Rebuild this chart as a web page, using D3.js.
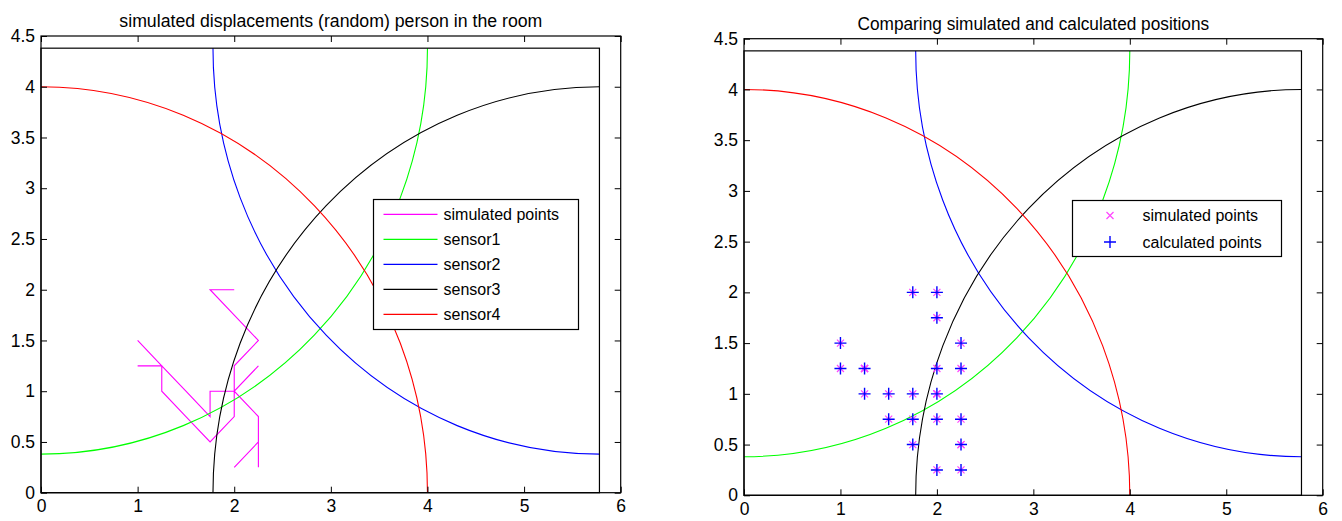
<!DOCTYPE html>
<html><head><meta charset="utf-8">
<script src="https://cdn.jsdelivr.net/npm/d3@7"></script>
<style>
html,body{margin:0;padding:0;background:#fff;}
svg{display:block;font-family:"Liberation Sans",Arial,Helvetica,sans-serif;}
</style>
</head><body>
<svg id="c" width="1342" height="521"></svg>
<script>
// ---- data ----
const xTicks = [0, 1, 2, 3, 4, 5, 6];
const xTickLabels = ["0", "1", "2", "3", "4", "5", "6"];
const yTicks = [0, 0.5, 1, 1.5, 2, 2.5, 3, 3.5, 4, 4.5];
const yTickLabels = ["0", "0.5", "1", "1.5", "2", "2.5", "3", "3.5", "4", "4.5"];
const roomX = [0, 5.78];
const roomY = [0, 4.38];
const sensorNames = ["sensor1", "sensor2", "sensor3", "sensor4"];
const sensorColors = ["#00ff00", "#0000ff", "#000000", "#ff0000"];
const sensorCX = [0, 5.78, 5.78, 0];
const sensorCY = [4.38, 4.38, 0, 0];
const sensorR = [4, 4, 4, 4];
// simulated random walk (person in the room)
const walkX = [2, 2.25, 2.25, 2.25, 2.25, 2, 2.25, 2, 1.75, 1.75, 1.5, 1.25, 1, 1.25, 1, 1.25, 1.25, 1.5, 1.75, 2, 2, 2, 2.25, 2, 1.75, 2];
const walkY = [0.25, 0.5, 0.25, 0.5, 0.75, 1, 1.25, 1, 1, 0.75, 1, 1.25, 1.5, 1.25, 1.25, 1.25, 1, 0.75, 0.5, 0.75, 1, 1.25, 1.5, 1.75, 2, 2];
// calculated positions
const calcX = [1.75, 2, 2, 1, 2.25, 1, 1.25, 2, 2.25, 1.25, 1.5, 1.75, 2, 1.5, 1.75, 2, 2.25, 1.75, 2.25, 2, 2.25];
const calcY = [2, 2, 1.75, 1.5, 1.5, 1.25, 1.25, 1.25, 1.25, 1, 1, 1, 1, 0.75, 0.75, 0.75, 0.75, 0.5, 0.5, 0.25, 0.25];
const titles = ["simulated displacements (random) person in the room", "Comparing simulated and calculated positions"];

const svg = d3.select("#c");
const plusPath = "M-6,0H6M0,-6V6";
const xPath = "M-3.5,-3.5L3.5,3.5M-3.5,3.5L3.5,-3.5";

function panel(idx, box) {
  const g = svg.append("g");
  const x = d3.scaleLinear().domain([0, 6]).range([box.l, box.r]);
  const y = d3.scaleLinear().domain([0, 4.5]).range([box.b, box.t]);

  // title
  const t = g.append("text").attr("x", (box.l + box.r) / 2).attr("y", box.t - 9)
    .attr("text-anchor", "middle").attr("font-size", 17.5).attr("fill", "#000")
    .text(titles[idx]);
  t.node().setAttribute("textLength", box.titleW);
  t.node().setAttribute("lengthAdjust", "spacingAndGlyphs");

  // clip to room
  const cid = "room" + idx;
  g.append("clipPath").attr("id", cid).append("rect")
    .attr("x", x(roomX[0])).attr("y", y(roomY[1]))
    .attr("width", x(roomX[1]) - x(roomX[0])).attr("height", y(roomY[0]) - y(roomY[1]));

  const sensorIdx = d3.range(sensorNames.length);

  // walk line (left panel only)
  if (idx === 0) {
    const line = d3.line().x(i => x(walkX[i])).y(i => y(walkY[i]));
    g.append("path").attr("d", line(d3.range(walkX.length)))
      .attr("fill", "none").attr("stroke", "#ff00ff").attr("stroke-width", 1.1);
  }

  // sensor circles
  g.append("g").attr("clip-path", `url(#${cid})`).selectAll("ellipse").data(sensorIdx).join("ellipse")
    .attr("cx", i => x(sensorCX[i])).attr("cy", i => y(sensorCY[i]))
    .attr("rx", i => x(sensorR[i]) - x(0)).attr("ry", i => y(0) - y(sensorR[i]))
    .attr("fill", "none").attr("stroke", i => sensorColors[i]).attr("stroke-width", 1.1);

  // room
  g.append("rect").attr("x", x(roomX[0])).attr("y", y(roomY[1]))
    .attr("width", x(roomX[1]) - x(roomX[0])).attr("height", y(roomY[0]) - y(roomY[1]))
    .attr("fill", "none").attr("stroke", "#000").attr("stroke-width", 1.2);

  if (idx === 1) {
    g.selectAll(".sim").data(d3.range(walkX.length)).join("path").attr("class", "sim")
      .attr("transform", i => `translate(${x(walkX[i])},${y(walkY[i])})`)
      .attr("d", xPath).attr("fill", "none").attr("stroke", "#ff44ff").attr("stroke-width", 1.2);
    g.selectAll(".calc").data(d3.range(calcX.length)).join("path").attr("class", "calc")
      .attr("transform", i => `translate(${x(calcX[i])},${y(calcY[i])})`)
      .attr("d", plusPath).attr("fill", "none").attr("stroke", "#0000ff").attr("stroke-width", 1.4);
  }

  // axes (ticks inward on all four sides)
  const styleAxis = a => {
    a.select(".domain").remove();
    a.selectAll(".tick line").attr("stroke", "#000").attr("stroke-width", 1);
    a.selectAll("text").attr("font-size", 17.5).attr("fill", "#000")
      .attr("font-family", "Liberation Sans, Arial, sans-serif");
  };
  g.append("g").attr("transform", `translate(0,${box.b})`)
    .call(d3.axisBottom(x).tickValues(xTicks).tickFormat((d, i) => xTickLabels[i]).tickSize(-6).tickPadding(7))
    .call(styleAxis);
  g.append("g").attr("transform", `translate(0,${box.t})`)
    .call(d3.axisTop(x).tickValues(xTicks).tickFormat("").tickSize(-6))
    .call(styleAxis);
  g.append("g").attr("transform", `translate(${box.l},0)`)
    .call(d3.axisLeft(y).tickValues(yTicks).tickFormat((d, i) => yTickLabels[i]).tickSize(-6).tickPadding(6))
    .call(styleAxis);
  g.append("g").attr("transform", `translate(${box.r},0)`)
    .call(d3.axisRight(y).tickValues(yTicks).tickFormat("").tickSize(-6))
    .call(styleAxis);
  g.append("rect").attr("x", box.l).attr("y", box.t).attr("width", box.r - box.l).attr("height", box.b - box.t)
    .attr("fill", "none").attr("stroke", "#000").attr("stroke-width", 1.2);

  // legend
  const lg = g.append("g");
  if (idx === 0) {
    const names = ["simulated points"].concat(sensorNames);
    const cols = ["#ff00ff"].concat(sensorColors);
    const lx = 373.5, ly = 199.5, lw = 205, lh = 130;
    lg.append("rect").attr("x", lx).attr("y", ly).attr("width", lw).attr("height", lh)
      .attr("fill", "#fff").attr("stroke", "#000").attr("stroke-width", 1.2);
    names.forEach((n, i) => {
      const yy = 214.3 + i * 25;
      lg.append("line").attr("x1", lx + 10).attr("x2", lx + 64).attr("y1", yy).attr("y2", yy)
        .attr("stroke", cols[i]).attr("stroke-width", 1.2);
      lg.append("text").attr("x", lx + 70).attr("y", yy).attr("dy", "0.36em")
        .attr("font-size", 16).attr("fill", "#000").text(n);
    });
  } else {
    const names = ["simulated points", "calculated points"];
    const lx = 1072.5, ly = 200.5, lw = 209, lh = 56;
    lg.append("rect").attr("x", lx).attr("y", ly).attr("width", lw).attr("height", lh)
      .attr("fill", "#fff").attr("stroke", "#000").attr("stroke-width", 1.2);
    names.forEach((n, i) => {
      const yy = 215.5 + i * 26.5;
      lg.append("path").attr("transform", `translate(${lx + 37.5},${yy})`)
        .attr("d", i === 0 ? xPath : plusPath).attr("fill", "none")
        .attr("stroke", i === 0 ? "#ff44ff" : "#0000ff").attr("stroke-width", i === 0 ? 1.2 : 1.4);
      lg.append("text").attr("x", lx + 70).attr("y", yy).attr("dy", "0.36em")
        .attr("font-size", 16).attr("fill", "#000").text(n);
    });
  }
}

panel(0, {l: 41, r: 620.7, t: 36, b: 492.7, titleW: 423});
panel(1, {l: 744, r: 1322.7, t: 38.7, b: 495.3, titleW: 351.6});
</script>
</body></html>
